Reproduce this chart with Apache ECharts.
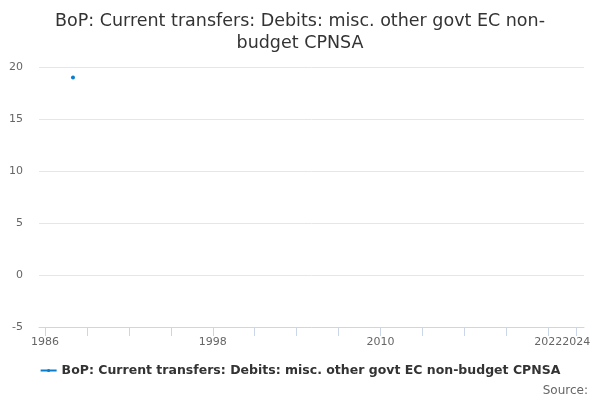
<!DOCTYPE html>
<html>
<head>
<meta charset="utf-8">
<script src="https://cdn.jsdelivr.net/npm/echarts@6/dist/echarts.min.js"></script>
<style>html,body{margin:0;padding:0;background:#fff}#c{width:600px;height:400px}</style>
</head>
<body>
<div id="c"></div>
<script>
var titleText = "BoP: Current transfers: Debits: misc. other govt EC non-\nbudget CPNSA";
var seriesName = "BoP: Current transfers: Debits: misc. other govt EC non-budget CPNSA";
var years = [1988];
var values = [19];
var xTicks = [1986, 1989, 1992, 1995, 1998, 2001, 2004, 2007, 2010, 2013, 2016, 2019, 2022, 2024];
var xLabels = [1986, 1998, 2010, 2022, 2024];

var chart = echarts.init(document.getElementById('c'), null, {renderer: 'canvas'});
var font = 'DejaVu Sans, sans-serif';
chart.setOption({
  animation: false,
  backgroundColor: '#ffffff',
  title: {
    text: titleText,
    left: 'center',
    top: 5,
    textStyle: {fontFamily: font, fontSize: 17.5, fontWeight: 'normal', color: '#333333', lineHeight: 22}
  },
  legend: {
    bottom: 18,
    left: 'center',
    itemWidth: 16,
    itemHeight: 4,
    itemGap: 5,
    textStyle: {fontFamily: font, fontSize: 12.5, fontWeight: 'bold', color: '#333333'}
  },
  graphic: [{
    type: 'text',
    right: 12,
    bottom: 3,
    style: {text: 'Source:', font: '12px DejaVu Sans, sans-serif', fill: '#666666'}
  }],
  grid: {left: 39, right: 16, top: 67, bottom: 73, containLabel: false},
  xAxis: {
    type: 'value',
    min: 1985.57,
    max: 2024.55,
    axisLine: {show: true, onZero: false, lineStyle: {color: '#ccd6eb'}},
    axisTick: {show: true, length: 9, lineStyle: {color: '#ccd6eb'}, customValues: xTicks},
    axisLabel: {customValues: xLabels, fontFamily: font, fontSize: 11, color: '#666666', margin: 10, formatter: function (v) { return String(v); }},
    splitLine: {show: false}
  },
  yAxis: {
    type: 'value',
    min: -5,
    max: 20,
    interval: 5,
    axisLine: {show: false},
    axisTick: {show: false},
    axisLabel: {fontFamily: font, fontSize: 11, color: '#666666', margin: 16},
    splitLine: {show: true, lineStyle: {color: '#e6e6e6'}}
  },
  series: [{
    name: seriesName,
    type: 'line',
    data: years.map(function (y, i) { return [y, values[i]]; }),
    symbol: 'circle',
    symbolSize: 4,
    showSymbol: true,
    itemStyle: {color: '#0b7dcd'},
    lineStyle: {color: '#0b7dcd', width: 2}
  }]
});
</script>
</body>
</html>
